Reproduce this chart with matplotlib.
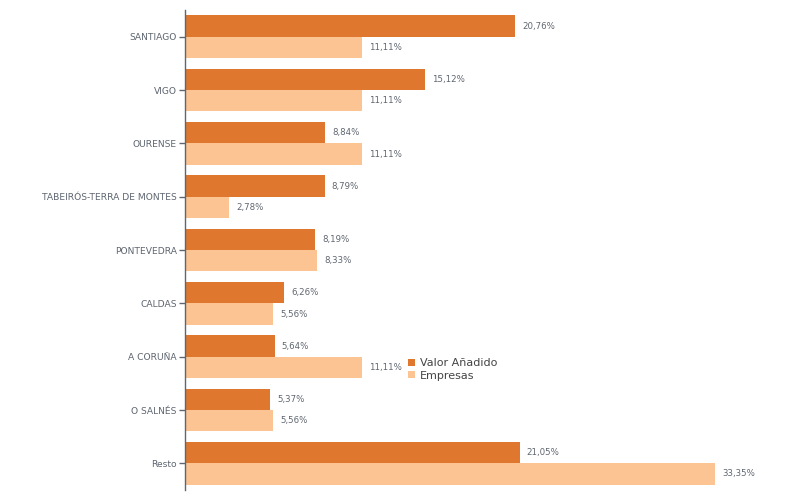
import matplotlib.pyplot as plt
import numpy as np

regions = ["SANTIAGO", "VIGO", "OURENSE", "TABEIRÓS-TERRA DE MONTES", "PONTEVEDRA",
           "CALDAS", "A CORUÑA", "O SALNÉS", "Resto"]
valor_anadido = [20.76, 15.12, 8.84, 8.79, 8.19, 6.26, 5.64, 5.37, 21.05]
empresas = [11.11, 11.11, 11.11, 2.78, 8.33, 5.56, 11.11, 5.56, 33.35]

dark = "#DF782E"
light = "#FCC393"
text_col = "#5f6670"

fig = plt.figure(figsize=(8, 5), dpi=100)
ax = fig.add_axes([185 / 800, 10 / 500, (715 - 185) / 800, 480 / 500])

y = np.arange(len(regions))
h = 0.4
ax.barh(y - h / 2, valor_anadido, height=h, color=dark, label="Valor Añadido")
ax.barh(y + h / 2, empresas, height=h, color=light, label="Empresas")

def fmt(v):
    return f"{v:.2f}%".replace(".", ",")

for yi, v in zip(y, valor_anadido):
    ax.text(v + 0.45, yi - h / 2, fmt(v), va="center", ha="left", fontsize=6.2, color=text_col)
for yi, v in zip(y, empresas):
    ax.text(v + 0.45, yi + h / 2, fmt(v), va="center", ha="left", fontsize=6.2, color=text_col)

ax.set_xlim(0, 33.35)
ax.set_ylim(len(regions) - 0.5, -0.5)
ax.set_yticks(y)
ax.set_yticklabels(regions, fontsize=6.6, color=text_col)
ax.tick_params(axis="y", length=4, width=1, color=text_col, pad=2)
ax.set_xticks([])
for s in ["top", "right", "bottom"]:
    ax.spines[s].set_visible(False)
ax.spines["left"].set_color(text_col)
ax.spines["left"].set_linewidth(1)

ax.legend(loc="upper left", bbox_to_anchor=(408 / 800, (500 - 358) / 500), bbox_transform=fig.transFigure,
          frameon=False, fontsize=8, handlelength=0.6, handleheight=0.6, handletextpad=0.5,
          labelspacing=0.25, borderaxespad=0, borderpad=0, labelcolor="#444444")

fig.savefig("out.png", dpi=100)
